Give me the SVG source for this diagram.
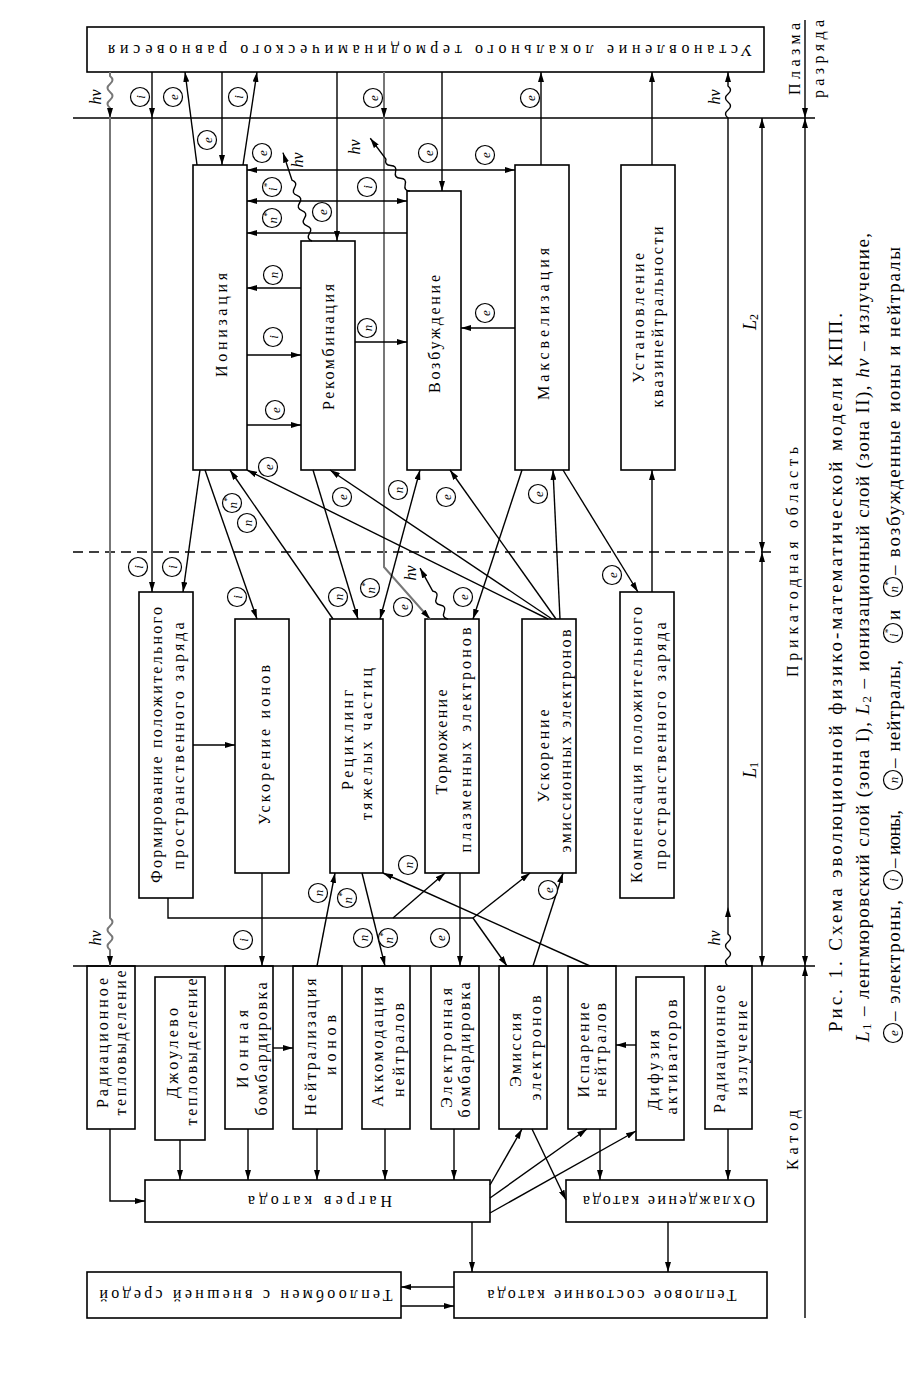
<svg xmlns="http://www.w3.org/2000/svg" width="919" height="1388" viewBox="0 0 919 1388">
<style>
.b{fill:#fff;stroke:#000;stroke-width:1.6}
.t{font-family:"Liberation Serif",serif;font-size:16px;fill:#000;text-anchor:middle;dominant-baseline:central}
.c path{fill:none;stroke:#000;stroke-width:1.4}
.c path.g{stroke:#777;stroke-width:2}
.lc{fill:#fff;stroke:#000;stroke-width:1.2}
.lt{font-family:"Liberation Serif",serif;font-style:italic;font-size:13px;fill:#000;text-anchor:middle;dominant-baseline:central}
.hv{font-family:"Liberation Serif",serif;font-style:italic;font-size:16px;fill:#000;text-anchor:middle;dominant-baseline:central}
.cap{font-family:"Liberation Serif",serif;font-size:19px;fill:#000;dominant-baseline:central}
</style>
<defs>
<marker id="a" viewBox="0 0 10 6" refX="10" refY="3" markerWidth="10" markerHeight="6" markerUnits="userSpaceOnUse" orient="auto-start-reverse"><path d="M0,0 L10,3 L0,6 z" fill="#000"/></marker>
<g id="le"><circle r="9.5" class="lc"/><text class="lt" transform="rotate(-90)">e</text></g>
<g id="li"><circle r="9.5" class="lc"/><text class="lt" transform="rotate(-90)">i</text></g>
<g id="ln"><circle r="9.5" class="lc"/><text class="lt" transform="rotate(-90)">n</text></g>
<g id="lis"><circle r="9.5" class="lc"/><text class="lt" transform="rotate(-90)">i<tspan font-size="9" dy="-5">*</tspan></text></g>
<g id="lns"><circle r="9.5" class="lc"/><text class="lt" transform="rotate(-90)">n<tspan font-size="9" dy="-5">*</tspan></text></g>
</defs>
<rect width="919" height="1388" fill="#fff"/>

<!-- nodes -->
<g id="n-ltr"><rect class="b" x="87" y="27" width="677" height="45"/><text class="t" transform="translate(430,50) rotate(180)" textLength="644">Установление локального термодинамического равновесия</text></g>
<g id="n-ion"><rect class="b" x="193" y="165" width="54" height="305"/><text class="t" transform="translate(221,325) rotate(-90)" textLength="104">Ионизация</text></g>
<g id="n-rec"><rect class="b" x="301" y="241" width="54" height="229"/><text class="t" transform="translate(328,347) rotate(-90)" textLength="126">Рекомбинация</text></g>
<g id="n-exc"><rect class="b" x="407" y="191" width="54" height="279"/><text class="t" transform="translate(434,334) rotate(-90)" textLength="118">Возбуждение</text></g>
<g id="n-max"><rect class="b" x="515" y="165" width="54" height="305"/><text class="t" transform="translate(543,324) rotate(-90)" textLength="152">Максвелизация</text></g>
<g id="n-qn"><rect class="b" x="621" y="165" width="54" height="305"/><text class="t" transform="translate(638,318) rotate(-90)" textLength="130">Установление</text><text class="t" transform="translate(657,317) rotate(-90)" textLength="181">квазинейтральности</text></g>
<g id="n-form"><rect class="b" x="139" y="592" width="54" height="306"/><text class="t" transform="translate(156,745) rotate(-90)" textLength="276">Формирование положительного</text><text class="t" transform="translate(178,746) rotate(-90)" textLength="247">пространственного заряда</text></g>
<g id="n-acci"><rect class="b" x="235" y="619" width="54" height="254"/><text class="t" transform="translate(264,745) rotate(-90)" textLength="160">Ускорение ионов</text></g>
<g id="n-recyc"><rect class="b" x="330" y="619" width="53" height="254"/><text class="t" transform="translate(347,740) rotate(-90)" textLength="100">Рециклинг</text><text class="t" transform="translate(366,744) rotate(-90)" textLength="152">тяжелых частиц</text></g>
<g id="n-torm"><rect class="b" x="425" y="619" width="54" height="254"/><text class="t" transform="translate(441,742) rotate(-90)" textLength="105">Торможение</text><text class="t" transform="translate(465,740) rotate(-90)" textLength="225">плазменных электронов</text></g>
<g id="n-acce"><rect class="b" x="522" y="619" width="54" height="254"/><text class="t" transform="translate(543,756) rotate(-90)" textLength="93">Ускорение</text><text class="t" transform="translate(565,741) rotate(-90)" textLength="223">эмиссионных электронов</text></g>
<g id="n-comp"><rect class="b" x="620" y="592" width="54" height="306"/><text class="t" transform="translate(636,745) rotate(-90)" textLength="276">Компенсация положительного</text><text class="t" transform="translate(660,746) rotate(-90)" textLength="247">пространственного заряда</text></g>

<g id="n-radt"><rect class="b" x="87" y="966" width="48" height="163"/><text class="t" transform="translate(102,1043) rotate(-90)" textLength="130">Радиационное</text><text class="t" transform="translate(120,1043) rotate(-90)" textLength="145">тепловыделение</text></g>
<g id="n-joule"><rect class="b" x="155" y="977" width="50" height="163"/><text class="t" transform="translate(172,1053) rotate(-90)" textLength="90">Джоулево</text><text class="t" transform="translate(191,1052) rotate(-90)" textLength="147">тепловыделение</text></g>
<g id="n-ionb"><rect class="b" x="225" y="966" width="48" height="163"/><text class="t" transform="translate(242,1049) rotate(-90)" textLength="78">Ионная</text><text class="t" transform="translate(261,1049) rotate(-90)" textLength="133">бомбардировка</text></g>
<g id="n-neutr"><rect class="b" x="293" y="966" width="49" height="163"/><text class="t" transform="translate(310,1047) rotate(-90)" textLength="137">Нейтрализация</text><text class="t" transform="translate(330,1045) rotate(-90)" textLength="60">ионов</text></g>
<g id="n-accom"><rect class="b" x="362" y="966" width="48" height="163"/><text class="t" transform="translate(377,1047) rotate(-90)" textLength="120">Аккомодация</text><text class="t" transform="translate(398,1050) rotate(-90)" textLength="94">нейтралов</text></g>
<g id="n-elb"><rect class="b" x="431" y="966" width="48" height="163"/><text class="t" transform="translate(446,1048) rotate(-90)" textLength="120">Электронная</text><text class="t" transform="translate(464,1050) rotate(-90)" textLength="135">бомбардировка</text></g>
<g id="n-emis"><rect class="b" x="499" y="966" width="48" height="163"/><text class="t" transform="translate(515,1050) rotate(-90)" textLength="74">Эмиссия</text><text class="t" transform="translate(535,1048) rotate(-90)" textLength="105">электронов</text></g>
<g id="n-evap"><rect class="b" x="568" y="966" width="48" height="163"/><text class="t" transform="translate(583,1050) rotate(-90)" textLength="95">Испарение</text><text class="t" transform="translate(600,1050) rotate(-90)" textLength="94">нейтралов</text></g>
<g id="n-diff"><rect class="b" x="636" y="977" width="48" height="163"/><text class="t" transform="translate(653,1070) rotate(-90)" textLength="80">Дифузия</text><text class="t" transform="translate(671,1057) rotate(-90)" textLength="115">активаторов</text></g>
<g id="n-rade"><rect class="b" x="705" y="966" width="47" height="163"/><text class="t" transform="translate(719,1049) rotate(-90)" textLength="128">Радиационное</text><text class="t" transform="translate(741,1048) rotate(-90)" textLength="95">излучение</text></g>
<g id="n-heat"><rect class="b" x="145" y="1180" width="345" height="42"/><text class="t" transform="translate(320,1201) rotate(180)" textLength="144">Нагрев катода</text></g>
<g id="n-cool"><rect class="b" x="566" y="1180" width="201" height="42"/><text class="t" transform="translate(669,1201) rotate(180)" textLength="172">Охлаждение катода</text></g>
<g id="n-exch"><rect class="b" x="87" y="1272" width="314" height="46"/><text class="t" transform="translate(246,1295) rotate(180)" textLength="293">Теплообмен с внешней средой</text></g>
<g id="n-therm"><rect class="b" x="454" y="1272" width="313" height="46"/><text class="t" transform="translate(612,1295) rotate(180)" textLength="249">Тепловое состояние катода</text></g>

<!-- connectors -->
<g id="connectors" class="c">
<g id="bounds">
<path d="M73,118 H815"/>
<path d="M73,966 H815"/>
<path d="M73,552 H775" stroke-dasharray="10,6"/>
<path d="M805,20 V118" marker-end="url(#a)"/>
<path d="M805,118 V966" marker-start="url(#a)" marker-end="url(#a)"/>
<path d="M805,966 V1318" marker-start="url(#a)"/>
<path d="M762,118 V552" marker-start="url(#a)" marker-end="url(#a)"/>
<path d="M762,552 V966" marker-start="url(#a)" marker-end="url(#a)"/>
</g>
<g marker-end="url(#a)">
<path class="g" d="M110,72 V76 q5,4 0,8 q-5,4 0,8 q5,4 0,8 q-5,4 0,8 V118"/>
<path class="g" d="M110,118 V918 q5,4 0,8 q-5,4 0,8 q5,4 0,8 q-5,4 0,8 V966"/>
<path d="M152,72 V118"/>
<path d="M152,118 V592"/>
<path d="M222,72 V165"/>
<path d="M197,165 L185,72"/>
<path d="M243,165 L257,72"/>
<path d="M337,72 V241"/>
<path class="g" d="M384,72 V118"/>
<path class="g" d="M384,118 V567 L430,619"/>
<path d="M442,72 V191"/>
<path d="M541,165 V72"/>
<path d="M652,165 V72"/>
<path d="M728,966 q-5,-4 0,-8 q5,-4 0,-8 q-5,-4 0,-8 q5,-4 0,-8 L728,907"/>
<path d="M728,907 V118 q-5,-4 0,-8 q5,-4 0,-8 q-5,-4 0,-8 q5,-4 0,-8 L728,72"/>
<path d="M247,170 H515" marker-start="url(#a)"/>
<path d="M247,201 H407" marker-start="url(#a)"/>
<path d="M407,233 H247"/>
<path d="M301,288 H247"/>
<path d="M247,355 H301"/>
<path d="M247,425 H301"/>
<path d="M355,342 H407"/>
<path d="M515,328 H461"/>
<path transform="translate(312,241) rotate(-108.2)" d="M0,0 q4,-5 8,0 q4,5 8,0 q4,-5 8,0 q4,5 8,0 q4,-5 8,0 q4,5 8,0 q4,-5 8,0 q4,5 8,0 L93,0"/>
<path transform="translate(410,191) rotate(-127)" d="M0,0 q4,-5 8,0 q4,5 8,0 q4,-5 8,0 q4,5 8,0 q4,-5 8,0 L66,0"/>
<path transform="translate(448,619) rotate(-118.8)" d="M0,0 q4,-5 8,0 q4,5 8,0 q4,-5 8,0 q4,5 8,0 L58,0"/>
<path d="M200,470 L183,592"/>
<path d="M205,470 L257,619"/>
<path d="M333,619 L230,470"/>
<path d="M548,619 L247,470"/>
<path d="M313,470 L358,619"/>
<path d="M552,619 L330,470"/>
<path d="M380,619 L420,470" marker-start="url(#a)"/>
<path d="M556,619 L450,470"/>
<path d="M522,470 L473,619"/>
<path d="M560,619 L553,470"/>
<path d="M563,470 L638,592"/>
<path d="M652,592 V470"/>
<path d="M193,745 H235"/>
<path d="M168,898 V918 H473" marker-end="none"/>
<path d="M393,918 L445,873"/>
<path d="M473,918 L530,873"/>
<path d="M473,918 L507,966"/>
<path d="M262,873 V966"/>
<path d="M317,966 L335,873"/>
<path d="M362,873 L385,966"/>
<path d="M590,966 L383,873"/>
<path d="M460,873 V966"/>
<path d="M533,966 L563,873"/>
<path d="M110,1129 V1201 H145"/>
<path d="M180,1140 V1180"/>
<path d="M248,1129 V1180"/>
<path d="M317,1129 V1180"/>
<path d="M385,1129 V1180"/>
<path d="M454,1129 V1180"/>
<path d="M490,1185 L522,1129"/>
<path d="M490,1198 L587,1129"/>
<path d="M490,1213 L636,1131"/>
<path d="M532,1129 L566,1200"/>
<path d="M600,1129 V1180"/>
<path d="M728,1129 V1180"/>
<path d="M472,1222 V1272"/>
<path d="M668,1222 V1272"/>
<path d="M454,1287 H401"/>
<path d="M401,1306 H454"/>
<path d="M273,1048 H293"/>
<path d="M636,1045 H616"/>
</g>
<g id="labels">
<use href="#li" x="140" y="97"/><use href="#le" x="173" y="97"/><use href="#li" x="238" y="97"/>
<use href="#le" x="373" y="98"/><use href="#le" x="530" y="98"/>
<use href="#le" x="207" y="140"/><use href="#le" x="262" y="153"/><use href="#lis" x="272" y="187"/>
<use href="#lns" x="272" y="218"/><use href="#le" x="322" y="212"/><use href="#li" x="367" y="187"/>
<use href="#le" x="428" y="153"/><use href="#le" x="485" y="155"/>
<use href="#ln" x="273" y="275"/><use href="#li" x="273" y="337"/><use href="#le" x="275" y="410"/>
<use href="#ln" x="367" y="328"/><use href="#le" x="485" y="313"/><use href="#le" x="268" y="467"/>
<use href="#lns" x="232" y="503"/><use href="#ln" x="247" y="523"/>
<use href="#li" x="138" y="567"/><use href="#li" x="172" y="567"/><use href="#li" x="237" y="597"/>
<use href="#le" x="342" y="497"/><use href="#ln" x="398" y="490"/><use href="#le" x="446" y="497"/><use href="#le" x="538" y="494"/>
<use href="#ln" x="338" y="597"/><use href="#lns" x="370" y="588"/><use href="#le" x="403" y="607"/><use href="#le" x="463" y="597"/><use href="#le" x="612" y="575"/>
<use href="#ln" x="318" y="893"/><use href="#lns" x="347" y="898"/><use href="#ln" x="408" y="865"/>
<use href="#ln" x="363" y="938"/><use href="#lns" x="388" y="938"/><use href="#le" x="440" y="938"/><use href="#le" x="548" y="890"/>
<use href="#li" x="243" y="940"/>
<text class="hv" transform="translate(95,97) rotate(-90)">hν</text>
<text class="hv" transform="translate(95,938) rotate(-90)">hν</text>
<text class="hv" transform="translate(714,97) rotate(-90)">hν</text>
<text class="hv" transform="translate(714,938) rotate(-90)">hν</text>
<text class="hv" transform="translate(297,160) rotate(-90)">hν</text>
<text class="hv" transform="translate(354,147) rotate(-90)">hν</text>
<text class="hv" transform="translate(410,573) rotate(-90)">hν</text>
</g>
</g>

<!-- side labels -->
<g id="side">
<text class="t" transform="translate(794,59) rotate(-90)" textLength="72">Плазма</text>
<text class="t" transform="translate(818,59) rotate(-90)" textLength="78">разряда</text>
<text class="t" transform="translate(792,562) rotate(-90)" textLength="230">Прикатодная область</text>
<text class="t" transform="translate(792,1140) rotate(-90)" textLength="60">Катод</text>
<text class="hv" style="font-size:18px" transform="translate(750,322) rotate(-90)">L<tspan font-size="12" dy="4" font-style="normal">2</tspan></text>
<text class="hv" style="font-size:18px" transform="translate(750,770) rotate(-90)">L<tspan font-size="12" dy="4" font-style="normal">1</tspan></text>
</g>

<!-- caption -->
<g id="caption">
<text class="cap" transform="translate(835,1032) rotate(-90)" textLength="719">Рис. 1. Схема эволюционной физико-математической модели КПП.</text>
<text class="cap" transform="translate(862,1042) rotate(-90)" textLength="809"><tspan font-style="italic">L</tspan><tspan font-size="13" dy="4">1</tspan><tspan dy="-4"> – ленгмюровский слой (зона I), </tspan><tspan font-style="italic">L</tspan><tspan font-size="13" dy="4">2</tspan><tspan dy="-4"> – ионизационный слой (зона II), </tspan><tspan font-style="italic">hν</tspan> – излучение,</text>
<use href="#le" x="893" y="1033"/>
<text class="cap" transform="translate(893,1021) rotate(-90)" textLength="121">– электроны,</text>
<use href="#li" x="893" y="880"/>
<text class="cap" transform="translate(893,868) rotate(-90)" textLength="58">– ионы,</text>
<use href="#ln" x="893" y="780"/>
<text class="cap" transform="translate(893,768) rotate(-90)" textLength="108">– нейтралы,</text>
<use href="#lis" x="893" y="633"/>
<text class="cap" style="text-anchor:middle" transform="translate(893,615) rotate(-90)">и</text>
<use href="#lns" x="893" y="587"/>
<text class="cap" transform="translate(893,575) rotate(-90)" textLength="328">– возбужденные ионы и нейтралы</text>
</g>
</svg>
